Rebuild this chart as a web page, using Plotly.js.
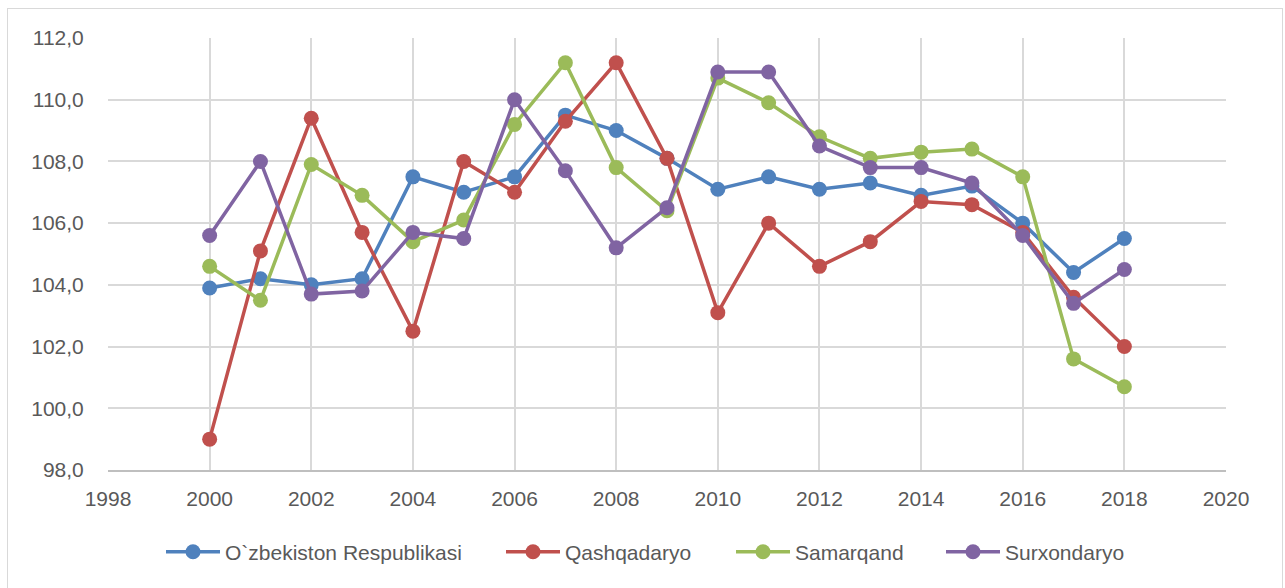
<!DOCTYPE html>
<html>
<head>
<meta charset="utf-8">
<script src="https://cdn.plot.ly/plotly-3.0.1.min.js"></script>
<style>
  html, body { margin: 0; padding: 0; background: #fff; }
  #chart { width: 1285px; height: 588px; }
  #frame { position: absolute; left: 7px; top: 8px; width: 1274px; height: 590px; border: 1px solid #d9d9d9; pointer-events: none; }
</style>
</head>
<body>
<div id="chart"></div>
<div id="frame"></div>
<script>
const years = [2000,2001,2002,2003,2004,2005,2006,2007,2008,2009,2010,2011,2012,2013,2014,2015,2016,2017,2018];
const uzbekistan = [103.9,104.2,104.0,104.2,107.5,107.0,107.5,109.5,109.0,108.1,107.1,107.5,107.1,107.3,106.9,107.2,106.0,104.4,105.5];
const qashqadaryo = [99.0,105.1,109.4,105.7,102.5,108.0,107.0,109.3,111.2,108.1,103.1,106.0,104.6,105.4,106.7,106.6,105.7,103.6,102.0];
const samarqand = [104.6,103.5,107.9,106.9,105.4,106.1,109.2,111.2,107.8,106.4,110.7,109.9,108.8,108.1,108.3,108.4,107.5,101.6,100.7];
const surxondaryo = [105.6,108.0,103.7,103.8,105.7,105.5,110.0,107.7,105.2,106.5,110.9,110.9,108.5,107.8,107.8,107.3,105.6,103.4,104.5];
const seriesNames = ["O`zbekiston Respublikasi","Qashqadaryo","Samarqand","Surxondaryo"];
const colors = ["#4f81bd","#c0504d","#9bbb59","#8064a2"];
const xTicks = [1998,2000,2002,2004,2006,2008,2010,2012,2014,2016,2018,2020];
const yTicks = [98,100,102,104,106,108,110,112];

const legendIds = ['legend','legend2','legend3','legend4'];
const data = [uzbekistan, qashqadaryo, samarqand, surxondaryo].map((vals, i) => ({
  x: years, y: vals, name: seriesNames[i], type: 'scatter', mode: 'lines+markers',
  legend: legendIds[i],
  line: {color: colors[i], width: 3.5},
  marker: {color: colors[i], size: 15}
}));

const font = {family: 'Liberation Sans, Arial, sans-serif', size: 21, color: '#595959'};
const plotL = 108, plotW = 1118;
const legendLeftPx = [161, 501, 731, 941];
const layout = {
  width: 1285, height: 588,
  margin: {l: plotL, r: 59, t: 38, b: 118},
  separators: ', ',
  paper_bgcolor: '#fff', plot_bgcolor: '#fff',
  font: font,
  showlegend: true,
  xaxis: {
    range: [1998, 2020], tickvals: xTicks, ticktext: xTicks.map(String),
    showgrid: true, gridcolor: '#d9d9d9', gridwidth: 2,
    zeroline: false, showline: true, linecolor: '#bfbfbf', linewidth: 2, mirror: false,
    ticks: 'outside', ticklen: 9, tickcolor: 'rgba(0,0,0,0)', tickfont: font
  },
  yaxis: {
    range: [98, 112], tickvals: yTicks, tickformat: '.1f',
    showgrid: true, gridcolor: '#d9d9d9', gridwidth: 2,
    zeroline: false, showline: false,
    ticks: 'outside', ticklen: 19, tickcolor: 'rgba(0,0,0,0)', tickfont: font
  }
};
legendIds.forEach((id, i) => {
  layout[id] = {
    orientation: 'h', x: (legendLeftPx[i] - plotL) / plotW, xanchor: 'left',
    y: -0.19, yanchor: 'middle', font: font, bgcolor: 'rgba(0,0,0,0)', itemwidth: 54
  };
});
Plotly.newPlot('chart', data, layout, {displayModeBar: false, staticPlot: true});
</script>
</body>
</html>
